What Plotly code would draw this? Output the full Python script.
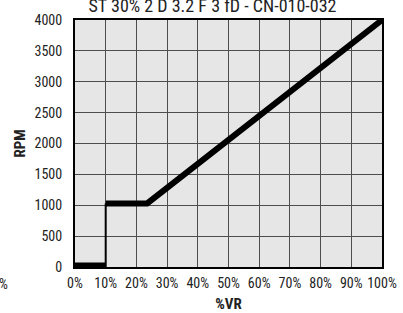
import plotly.graph_objects as go

# Data
step_x = [0, 10]
step_y = [0, 0]
riser_x = [10, 10]
riser_y = [0, 1030]
ramp_x = [10, 23.5, 100]
ramp_y = [1030, 1030, 4000]

x_ticks = [0, 10, 20, 30, 40, 50, 60, 70, 80, 90, 100]
x_tick_labels = [f"{v}%" for v in x_ticks]
y_ticks = [0, 500, 1000, 1500, 2000, 2500, 3000, 3500, 4000]

title_text = "ST 30% 2 D 3.2 F 3 fD - CN-010-032"

FONT = "Liberation Sans Narrow, Roboto Condensed, Arial Narrow, sans-serif"
W, H = 403, 313
ML, MR, MT, MB = 75, 21, 20, 46

fig = go.Figure()
fig.add_trace(go.Scatter(x=riser_x, y=riser_y, mode="lines",
                         line=dict(color="black", width=2), hoverinfo="skip"))
fig.add_trace(go.Scatter(x=step_x, y=step_y, mode="lines",
                         line=dict(color="black", width=9), hoverinfo="skip"))
fig.add_trace(go.Scatter(x=ramp_x, y=ramp_y, mode="lines",
                         line=dict(color="black", width=6), hoverinfo="skip"))

fig.update_layout(
    width=W, height=H,
    margin=dict(l=ML, r=MR, t=MT, b=MB, autoexpand=False),
    paper_bgcolor="white",
    plot_bgcolor="#e6e6e6",
    showlegend=False,
    font=dict(family=FONT, size=14, color="#222"),
    title=dict(text=title_text, x=212.5 / W, xanchor="center", y=1 - 5.5 / H, yanchor="middle",
               yref="container", font=dict(family=FONT, size=18, color="#222")),
    xaxis=dict(range=[0, 100], tickvals=x_ticks, ticktext=x_tick_labels,
               showgrid=True, gridcolor="#4d4d4d", gridwidth=1,
               showline=True, linecolor="black", linewidth=2, mirror=True,
               ticks="", zeroline=False, fixedrange=True, automargin=False,
               ticklabelstandoff=2,
               title=dict(text="<b>%VR</b>", font=dict(family=FONT, size=15, color="#222"), standoff=10)),
    yaxis=dict(range=[0, 4000], tickvals=y_ticks,
               showgrid=True, gridcolor="#4d4d4d", gridwidth=1,
               showline=True, linecolor="black", linewidth=2, mirror=True,
               ticks="", zeroline=False, fixedrange=True, automargin=False,
               ticklabelstandoff=8,
               title=dict(text="<b>RPM</b>", font=dict(family=FONT, size=15, color="#222"), standoff=5)),
)

plot_w = W - ML - MR
plot_h = H - MT - MB
fig.add_annotation(text="%", xref="paper", yref="paper",
                   x=-ML / plot_w, y=-(284 - (H - MB)) / plot_h,
                   xanchor="left", yanchor="middle", showarrow=False, xshift=-3,
                   font=dict(family=FONT, size=14, color="#222"))

fig.write_html("out.html", config={"displayModeBar": False},
               post_script="document.body.style.margin='0';document.body.style.overflow='hidden';")
